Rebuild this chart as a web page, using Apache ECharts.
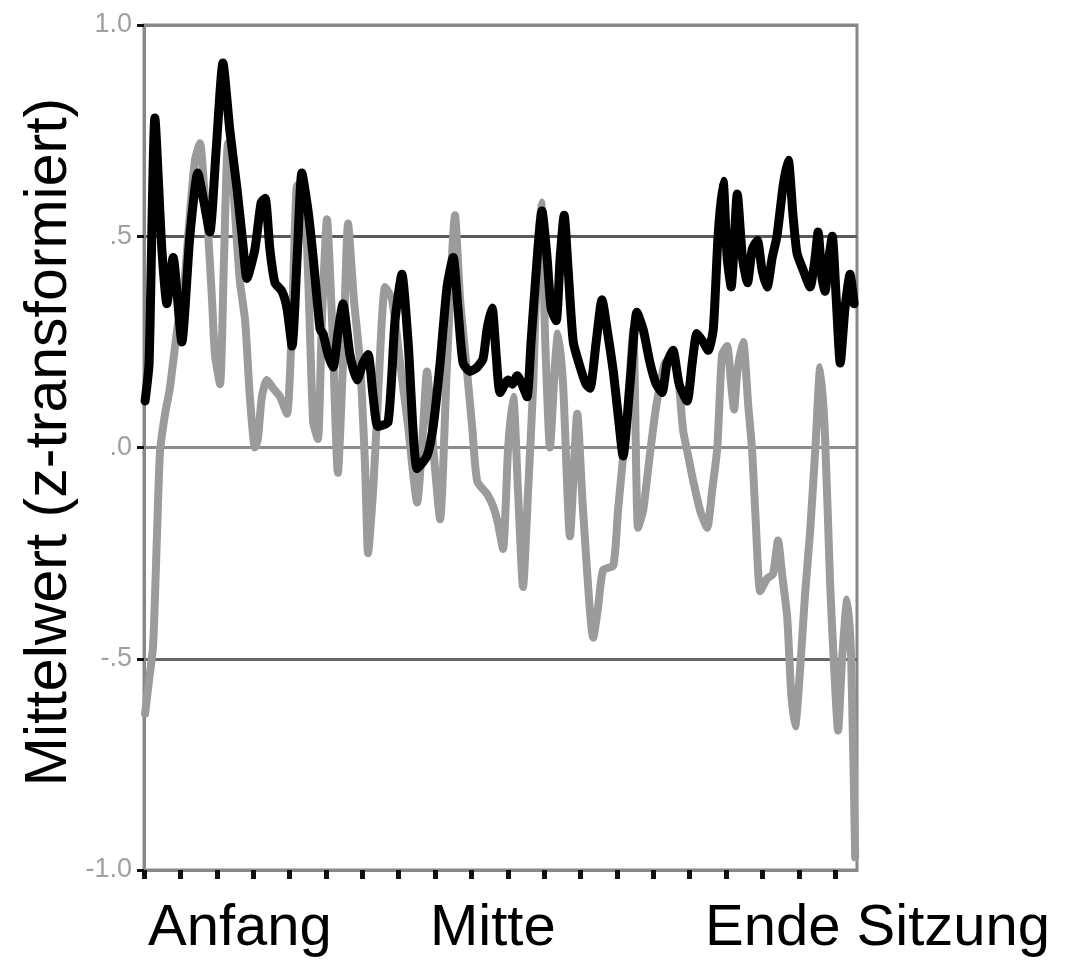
<!DOCTYPE html>
<html>
<head>
<meta charset="utf-8">
<script src="https://cdn.jsdelivr.net/npm/echarts@6/dist/echarts.min.js"></script>
<style>html,body{margin:0;padding:0;background:#fff;}#c{width:1070px;height:961px;}</style>
</head>
<body>
<div id="c"></div>
<script>
// Session time (in tick units along the session) and mean z-values
const blackTime = [0.03,0.14,0.30,0.49,0.63,0.80,1.04,1.26,1.48,1.65,1.81,1.98,2.17,2.36,2.56,2.72,2.83,3.05,3.22,3.33,3.46,3.60,3.79,3.93,4.07,4.21,4.34,4.51,4.65,4.84,4.92,5.06,5.20,5.33,5.47,5.66,5.86,6.02,6.16,6.30,6.43,6.71,6.90,7.09,7.26,7.51,7.78,7.95,8.14,8.33,8.50,8.63,8.77,8.96,9.16,9.32,9.43,9.57,9.68,9.79,10.01,10.12,10.26,10.39,10.53,10.64,10.81,10.94,11.08,11.19,11.33,11.44,11.55,11.66,11.80,11.99,12.15,12.26,12.43,12.59,12.73,12.90,13.03,13.17,13.36,13.55,13.72,13.91,14.08,14.24,14.38,14.54,14.71,14.93,15.07,15.20,15.37,15.51,15.65,15.78,15.92,16.03,16.14,16.31,16.45,16.59,16.72,16.86,16.99,17.13,17.27,17.40,17.57,17.71,17.84,17.95,18.12,18.31,18.45,18.53,18.64,18.72,18.83,18.92,19.03,19.14,19.27,19.41,19.52];
const blackValues = [0.11,0.20,0.78,0.47,0.34,0.45,0.25,0.50,0.65,0.58,0.51,0.70,0.91,0.75,0.61,0.48,0.40,0.47,0.58,0.59,0.47,0.39,0.37,0.33,0.24,0.45,0.65,0.56,0.45,0.28,0.27,0.22,0.19,0.27,0.34,0.22,0.16,0.20,0.22,0.12,0.05,0.06,0.30,0.41,0.25,-0.05,-0.02,0.05,0.20,0.38,0.45,0.33,0.20,0.18,0.19,0.21,0.28,0.33,0.22,0.13,0.16,0.15,0.17,0.15,0.12,0.25,0.45,0.56,0.45,0.33,0.30,0.45,0.55,0.42,0.25,0.19,0.15,0.14,0.25,0.35,0.28,0.18,0.08,-0.02,0.15,0.32,0.28,0.20,0.15,0.13,0.20,0.23,0.15,0.11,0.20,0.27,0.25,0.23,0.28,0.50,0.63,0.45,0.38,0.60,0.45,0.39,0.47,0.49,0.42,0.38,0.45,0.50,0.62,0.68,0.55,0.46,0.42,0.38,0.45,0.51,0.40,0.37,0.45,0.50,0.35,0.20,0.33,0.41,0.34];
const grayTime = [0.03,0.14,0.25,0.36,0.44,0.58,0.71,0.93,1.07,1.26,1.40,1.54,1.65,1.76,1.87,1.95,2.09,2.20,2.31,2.45,2.56,2.64,2.78,2.91,3.05,3.13,3.24,3.38,3.55,3.74,3.93,4.07,4.21,4.37,4.48,4.65,4.78,4.89,5.03,5.17,5.33,5.47,5.61,5.77,5.94,6.08,6.16,6.30,6.41,6.63,6.82,7.04,7.26,7.51,7.64,7.78,7.95,8.14,8.33,8.55,8.69,8.88,9.02,9.16,9.43,9.60,9.73,9.87,10.01,10.15,10.28,10.42,10.56,10.70,10.81,10.92,11.03,11.16,11.30,11.38,11.52,11.71,11.91,12.07,12.35,12.48,12.62,12.90,13.03,13.14,13.28,13.45,13.58,13.72,13.86,14.05,14.19,14.32,14.52,14.68,14.82,14.96,15.10,15.29,15.48,15.62,15.76,15.89,16.03,16.14,16.22,16.31,16.47,16.61,16.72,16.83,16.94,17.13,17.29,17.43,17.54,17.68,17.79,17.90,18.04,18.17,18.31,18.45,18.59,18.72,18.86,18.97,19.08,19.19,19.33,19.44,19.55];
const grayValues = [-0.63,-0.55,-0.47,-0.20,-0.01,0.08,0.14,0.29,0.35,0.55,0.68,0.72,0.62,0.51,0.35,0.22,0.15,0.45,0.72,0.62,0.48,0.39,0.30,0.12,0.00,0.02,0.12,0.16,0.14,0.12,0.08,0.30,0.62,0.55,0.48,0.06,0.02,0.30,0.54,0.30,-0.06,0.20,0.53,0.35,0.20,-0.05,-0.25,-0.10,0.08,0.38,0.35,0.20,0.05,-0.13,0.00,0.18,0.00,-0.17,0.20,0.55,0.35,0.18,0.05,-0.08,-0.11,-0.14,-0.18,-0.24,0.00,0.12,-0.10,-0.33,-0.10,0.15,0.45,0.58,0.25,0.00,0.20,0.27,0.15,-0.21,0.08,-0.15,-0.45,-0.38,-0.29,-0.28,-0.15,-0.05,0.08,0.28,-0.19,-0.15,-0.05,0.08,0.15,0.20,0.21,0.17,0.04,-0.02,-0.08,-0.15,-0.19,-0.10,0.00,0.22,0.24,0.15,0.09,0.18,0.25,0.10,-0.01,-0.20,-0.34,-0.31,-0.30,-0.22,-0.30,-0.40,-0.58,-0.66,-0.52,-0.35,-0.20,-0.01,0.19,0.03,-0.32,-0.52,-0.67,-0.50,-0.36,-0.50,-0.97];
const xTickValues = [0,1,2,3,4,5,6,7,8,9,10,11,12,13,14,15,16,17,18,19];
const yTickValues = [-1, -0.5, 0, 0.5, 1];
const yTickLabels = ['-1.0', '-.5', '.0', '.5', '1.0'];
const yAxisTitle = 'Mittelwert (z-transformiert)';
const xCaptions = ['Anfang', 'Mitte', 'Ende Sitzung'];

const zip = (xs, ys) => xs.map((x, i) => [x, ys[i]]);
const chart = echarts.init(document.getElementById('c'), null, {renderer: 'canvas'});
const FONT = '"Liberation Sans", Arial, sans-serif';
chart.setOption({
  animation: false,
  backgroundColor: '#fff',
  grid: {left: 144, right: 213, top: 25, bottom: 91, show: true, borderColor: '#888', borderWidth: 3, backgroundColor: 'transparent'},
  xAxis: {
    type: 'value', min: 0, max: 19.6, interval: 1,
    axisLine: {show: true, onZero: false, lineStyle: {color: '#888', width: 3}},
    axisTick: {show: true, customValues: xTickValues, length: 9, inside: false, lineStyle: {color: '#111', width: 5}},
    axisLabel: {show: false},
    splitLine: {show: false}
  },
  yAxis: {
    type: 'value', min: -1, max: 1, interval: 0.5,
    axisLine: {show: true, onZero: false, lineStyle: {color: '#888', width: 3}},
    axisTick: {show: true, length: 7, lineStyle: {color: '#111', width: 3}},
    axisLabel: {
      show: true, margin: 12, color: '#a0a0a0', fontSize: 27, fontFamily: FONT,
      formatter: v => { const i = yTickValues.findIndex(t => Math.abs(t - v) < 1e-9); return i >= 0 ? yTickLabels[i] : ''; }
    },
    splitLine: {show: true, lineStyle: {color: ['#888', '#666', '#8c8c8c', '#5a5a5a', '#888'], width: 3}}
  },
  series: [
    {type: 'line', data: zip(grayTime, grayValues), showSymbol: false, smooth: 0.2, z: 2,
     lineStyle: {color: '#9b9b9b', width: 8, join: 'round', cap: 'round'}},
    {type: 'line', data: zip(blackTime, blackValues), showSymbol: false, smooth: 0.2, z: 3,
     lineStyle: {color: '#000', width: 9, join: 'round', cap: 'round'}}
  ],
  graphic: [
    {type: 'text', x: 50, y: 442, rotation: Math.PI / 2,
     style: {text: yAxisTitle, font: '59px ' + FONT, fill: '#000', align: 'center', verticalAlign: 'middle'}},
    {type: 'text', x: 148, y: 929, style: {text: xCaptions[0], font: '58px ' + FONT, fill: '#000', align: 'left', verticalAlign: 'middle'}},
    {type: 'text', x: 430, y: 929, style: {text: xCaptions[1], font: '58px ' + FONT, fill: '#000', align: 'left', verticalAlign: 'middle'}},
    {type: 'text', x: 705, y: 929, style: {text: xCaptions[2], font: '58px ' + FONT, fill: '#000', align: 'left', verticalAlign: 'middle'}}
  ]
});
</script>
</body>
</html>
